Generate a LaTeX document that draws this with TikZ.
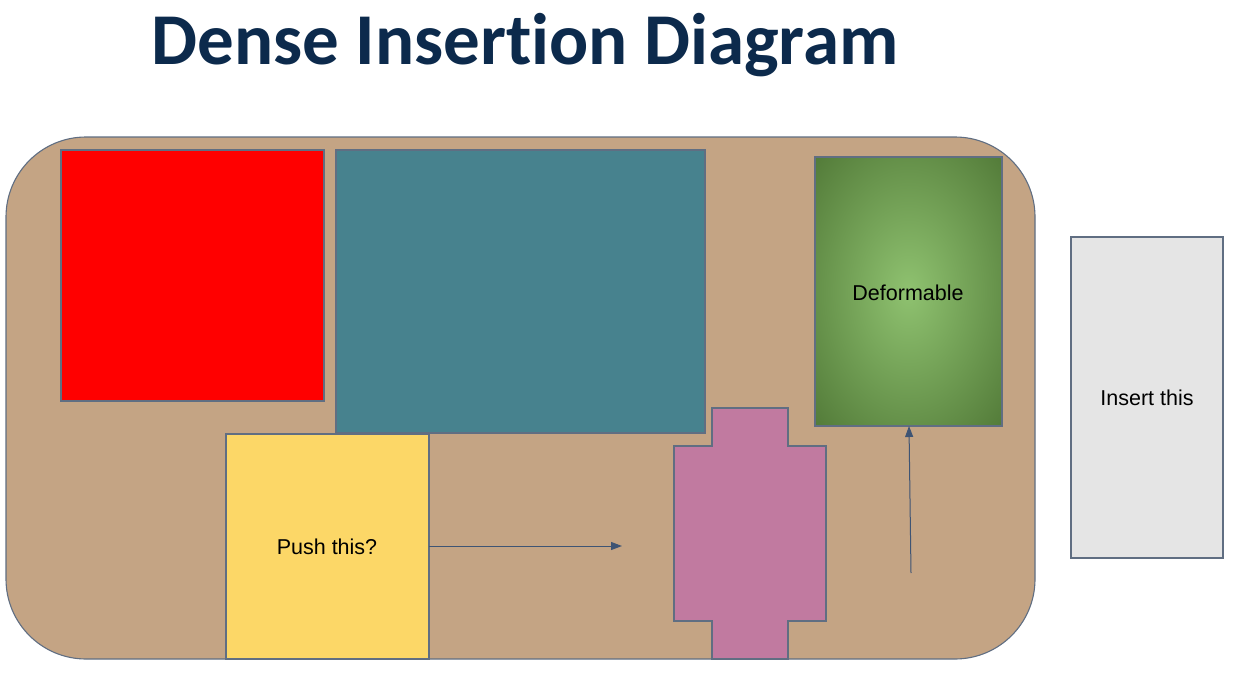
\documentclass[tikz,border=0pt]{standalone}
\usepackage{fontspec}
\setmainfont{Liberation Sans}
\newfontfamily\titlefont[Ligatures=NoCommon]{Carlito}
\usetikzlibrary{arrows.meta}
\definecolor{tray}{RGB}{196,164,132}
\definecolor{edge}{RGB}{96,110,130}
\definecolor{titleblue}{RGB}{12,42,76}
\definecolor{tealbox}{RGB}{71,130,142}
\definecolor{yellowbox}{RGB}{252,215,103}
\definecolor{pinkbox}{RGB}{193,122,160}
\definecolor{greenin}{RGB}{143,194,112}
\definecolor{greenout}{RGB}{82,122,56}
\definecolor{graybox}{RGB}{229,229,229}
\definecolor{arrowblue}{RGB}{62,84,116}
% soft centre glow reaching the corners of the box
\pgfdeclareradialshading{softglow}{\pgfpoint{0bp}{0bp}}{%
  color(0bp)=(greenin); color(36bp)=(greenout); color(50bp)=(greenout)}
\begin{document}
\begin{tikzpicture}[x=1pt,y=-1pt,
  block/.style={draw=edge,line width=1.1pt,inner sep=0pt,outer sep=0pt},
  label/.style={font=\fontsize{21.5}{25}\selectfont},
  pusharrow/.style={draw=arrowblue,line width=1pt,
    -{Triangle[length=11pt,width=8pt]}}]
\useasboundingbox (0,0) rectangle (1242,677);
\fill[white] (0,0) rectangle (1242,677);

% heading
\node[anchor=base,text=titleblue,inner sep=0pt,
  font=\titlefont\bfseries\fontsize{73}{80}\selectfont] (title) at (525,64)
  {Dense Insertion Diagram};

% container
\draw[fill=tray,draw=edge,line width=1.1pt,rounded corners=80pt]
  (6,137) rectangle (1035,659);

% packed objects
\node[block,fill=red,anchor=north west,minimum width=263pt,minimum height=251pt]
  (redbox) at (61,150) {};
\node[block,fill=tealbox,anchor=north west,minimum width=369pt,minimum height=283pt]
  (tealbox) at (336,150) {};
\node[block,shading=softglow,anchor=north west,minimum width=187pt,minimum height=269pt]
  (deform) at (815,157) {};
\node[label] (deformlabel) at (908,293) {Deformable};
\node[block,fill=yellowbox,anchor=north west,minimum width=203pt,minimum height=225pt]
  (pushbox) at (226,434) {};
\node[label] (pushlabel) at (327,547) {Push this?};

% cross-shaped piece
\draw[fill=pinkbox,draw=edge,line width=1.1pt]
  (712,408) -- (788,408) -- (788,446) -- (826,446) -- (826,621) -- (788,621)
  -- (788,659) -- (712,659) -- (712,621) -- (674,621) -- (674,446) -- (712,446)
  -- cycle;

% item waiting outside
\node[block,fill=graybox,anchor=north west,minimum width=152pt,minimum height=321pt]
  (insertbox) at (1071,237) {};
\node[label] (insertlabel) at (1147,398) {Insert this};

% motion arrows
\coordinate (pushend) at (622,546);
\coordinate (liftstart) at (911,573);
\draw[pusharrow] (pushbox.east |- pushend) -- (pushend);
\draw[pusharrow] (liftstart) -- (909,426);
\end{tikzpicture}
\end{document}
